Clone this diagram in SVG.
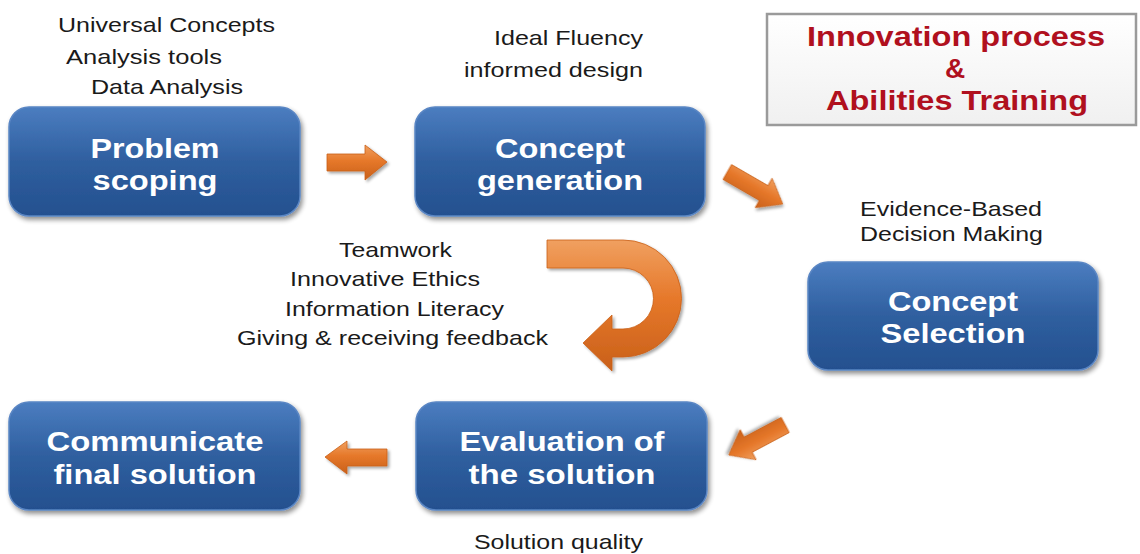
<svg xmlns="http://www.w3.org/2000/svg" width="1140" height="554" viewBox="0 0 1140 554">
<style>
.lbl{font-family:"Liberation Sans",Arial,sans-serif;font-size:21px;fill:#1a1a1a}
.box{fill:url(#gBox);stroke:#5a86c4;stroke-width:1.5;filter:url(#sh)}
.bt{font-family:"Liberation Sans",Arial,sans-serif;font-size:28px;font-weight:bold;fill:#ffffff;text-anchor:middle}
.arr{fill:url(#gArr);stroke:#c95f16;stroke-width:0.8;filter:url(#sh2)}
.tt{font-family:"Liberation Sans",Arial,sans-serif;font-size:28px;font-weight:bold;fill:#b0101e;text-anchor:middle}
</style>
<defs>
<linearGradient id="gBox" x1="0" y1="0" x2="0" y2="1">
<stop offset="0" stop-color="#4b7dc0"/>
<stop offset="0.5" stop-color="#2f5f9f"/>
<stop offset="1" stop-color="#24508f"/>
</linearGradient>
<linearGradient id="gArr" x1="0" y1="0" x2="0" y2="1">
<stop offset="0" stop-color="#f0a060"/>
<stop offset="0.45" stop-color="#e6782a"/>
<stop offset="1" stop-color="#c9601a"/>
</linearGradient>
<linearGradient id="gTitle" x1="0" y1="0" x2="0" y2="1">
<stop offset="0" stop-color="#ffffff"/>
<stop offset="1" stop-color="#f0f0f0"/>
</linearGradient>
<filter id="sh" x="-10%" y="-10%" width="125%" height="130%">
<feGaussianBlur in="SourceAlpha" stdDeviation="2.5"/>
<feOffset dx="2" dy="3" result="o"/>
<feComponentTransfer><feFuncA type="linear" slope="0.45"/></feComponentTransfer>
<feMerge><feMergeNode/><feMergeNode in="SourceGraphic"/></feMerge>
</filter>
<filter id="sh2" x="-20%" y="-20%" width="150%" height="150%">
<feGaussianBlur in="SourceAlpha" stdDeviation="1.5"/>
<feOffset dx="1.5" dy="2" result="o"/>
<feComponentTransfer><feFuncA type="linear" slope="0.35"/></feComponentTransfer>
<feMerge><feMergeNode/><feMergeNode in="SourceGraphic"/></feMerge>
</filter>
</defs>

<g id="title">
<rect x="767" y="14" width="369" height="111" fill="url(#gTitle)" stroke="#9a9a9a" stroke-width="2.5"/>
<text class="tt" x="956" y="46" textLength="298" lengthAdjust="spacingAndGlyphs">Innovation process</text>
<text class="tt" x="955" y="78">&amp;</text>
<text class="tt" x="957" y="110" textLength="262" lengthAdjust="spacingAndGlyphs">Abilities Training</text>
</g>

<g id="labels">
<text class="lbl" x="58" y="32" textLength="217" lengthAdjust="spacingAndGlyphs">Universal Concepts</text>
<text class="lbl" x="66" y="64" textLength="156" lengthAdjust="spacingAndGlyphs">Analysis tools</text>
<text class="lbl" x="91" y="94" textLength="152" lengthAdjust="spacingAndGlyphs">Data Analysis</text>
<text class="lbl" x="494" y="45" textLength="149" lengthAdjust="spacingAndGlyphs">Ideal Fluency</text>
<text class="lbl" x="464" y="77" textLength="179" lengthAdjust="spacingAndGlyphs">informed design</text>
<text class="lbl" x="860" y="216" textLength="182" lengthAdjust="spacingAndGlyphs">Evidence-Based</text>
<text class="lbl" x="860" y="241" textLength="183" lengthAdjust="spacingAndGlyphs">Decision Making</text>
<text class="lbl" x="339" y="257" textLength="113" lengthAdjust="spacingAndGlyphs">Teamwork</text>
<text class="lbl" x="290" y="286" textLength="190" lengthAdjust="spacingAndGlyphs">Innovative  Ethics</text>
<text class="lbl" x="285" y="316" textLength="219" lengthAdjust="spacingAndGlyphs">Information Literacy</text>
<text class="lbl" x="237" y="345" textLength="311" lengthAdjust="spacingAndGlyphs">Giving &amp; receiving feedback</text>
<text class="lbl" x="474" y="549" textLength="169" lengthAdjust="spacingAndGlyphs">Solution quality</text>
</g>

<g id="n-problem">
<rect class="box" x="9" y="107" width="291" height="109" rx="20"/>
<text class="bt" x="155" y="158" textLength="129" lengthAdjust="spacingAndGlyphs">Problem</text>
<text class="bt" x="155" y="190" textLength="125" lengthAdjust="spacingAndGlyphs">scoping</text>
</g>
<g id="n-generation">
<rect class="box" x="415" y="107" width="290" height="109" rx="20"/>
<text class="bt" x="560" y="158" textLength="130" lengthAdjust="spacingAndGlyphs">Concept</text>
<text class="bt" x="560" y="190" textLength="166" lengthAdjust="spacingAndGlyphs">generation</text>
</g>
<g id="n-selection">
<rect class="box" x="808" y="262" width="290" height="108" rx="20"/>
<text class="bt" x="953" y="311" textLength="130" lengthAdjust="spacingAndGlyphs">Concept</text>
<text class="bt" x="953" y="343" textLength="145" lengthAdjust="spacingAndGlyphs">Selection</text>
</g>
<g id="n-evaluation">
<rect class="box" x="416" y="402" width="291" height="108" rx="20"/>
<text class="bt" x="562" y="451" textLength="205" lengthAdjust="spacingAndGlyphs">Evaluation of</text>
<text class="bt" x="562" y="484" textLength="187" lengthAdjust="spacingAndGlyphs">the solution</text>
</g>
<g id="n-communicate">
<rect class="box" x="9" y="402" width="291" height="108" rx="20"/>
<text class="bt" x="155" y="451" textLength="217" lengthAdjust="spacingAndGlyphs">Communicate</text>
<text class="bt" x="155" y="484" textLength="203" lengthAdjust="spacingAndGlyphs">final solution</text>
</g>

<g id="connectors">
<path class="arr" d="M327 154 L365 154 L365 145 L387 162 L365 180 L365 171 L327 171 Z"/>
<path class="arr" transform="translate(755 188) rotate(30)" d="M-32 -8.5 L10 -8.5 L10 -17 L32 0 L10 17 L10 8.5 L-32 8.5 Z"/>
<path class="arr" d="M547 240 L623 240 A58.5 58.5 0 0 1 623 357 L612 357 L612 371 L583 343 L612 315 L612 329 L623 329 A30.5 30.5 0 0 0 623 268 L547 268 Z"/>
<path class="arr" transform="translate(757 440) rotate(152)" d="M-32 -8.5 L10 -8.5 L10 -17 L32 0 L10 17 L10 8.5 L-32 8.5 Z"/>
<path class="arr" d="M387 449 L347 449 L347 441 L325 457 L347 474 L347 466 L387 466 Z"/>
</g>
</svg>
